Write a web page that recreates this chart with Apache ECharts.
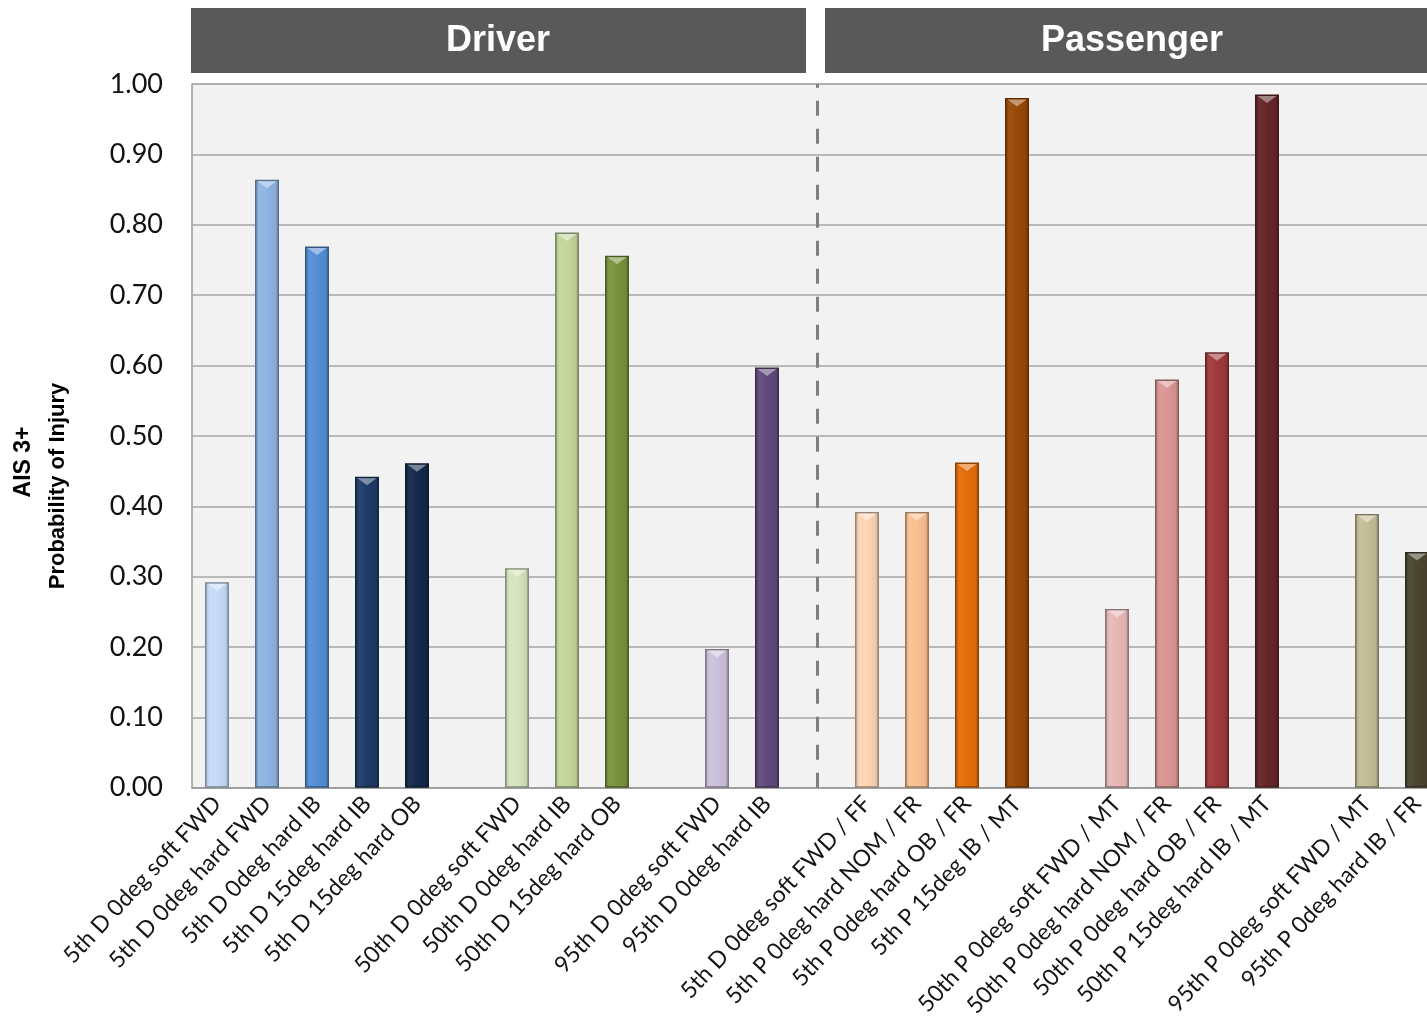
<!DOCTYPE html>
<html>
<head>
<meta charset="utf-8">
<script src="https://cdn.jsdelivr.net/npm/echarts@6/dist/echarts.min.js"></script>
<style>
html,body{margin:0;padding:0;background:#fff;overflow:hidden;width:1427px;height:1020px;}
#c{width:1442px;height:1020px;}
</style>
</head>
<body>
<div id="c"></div>
<script>
// ---- data ----
const categories = [
  '5th D 0deg soft FWD','5th D 0deg hard FWD','5th D 0deg hard IB','5th D 15deg hard IB','5th D 15deg hard OB',
  '',
  '50th D 0deg soft FWD','50th D 0deg hard IB','50th D 15deg hard OB',
  '',
  '95th D 0deg soft FWD','95th D 0deg hard IB',
  '',
  '5th D 0deg soft FWD / FF','5th P 0deg hard NOM / FR','5th P 0deg hard OB / FR','5th P 15deg IB / MT',
  '',
  '50th P 0deg soft FWD / MT','50th P 0deg hard NOM / FR','50th P 0deg hard OB / FR','50th P 15deg hard IB / MT',
  '',
  '95th P 0deg soft FWD / MT','95th P 0deg hard IB / FR'
];
const values = [
  0.292, 0.864, 0.769, 0.442, 0.461,
  null,
  0.312, 0.789, 0.756,
  null,
  0.197, 0.597,
  null,
  0.392, 0.392, 0.462, 0.980,
  null,
  0.254, 0.580, 0.619, 0.985,
  null,
  0.389, 0.335
];
const barColors = [
  '#c6dbf7','#8db4e2','#558ed5','#1f3b66','#13294a',
  null,
  '#d7e4bd','#c3d69b','#77933c',
  null,
  '#ccc1da','#604a7b',
  null,
  '#fcd5b5','#fac090','#e46c0a','#984807',
  null,
  '#e6b9b8','#d99694','#a0393a','#652527',
  null,
  '#c4bd97','#4a4530'
];
const yTicks = [0, 0.1, 0.2, 0.3, 0.4, 0.5, 0.6, 0.7, 0.8, 0.9, 1.0];
const dividerIndex = 12;
const groupHeaders = ['Driver', 'Passenger'];

// ---- helpers ----
function shade(hex, f) {
  const n = parseInt(hex.slice(1), 16);
  let r = (n >> 16) & 255, g = (n >> 8) & 255, b = n & 255;
  if (f < 1) { r *= f; g *= f; b *= f; }
  else { r = r + (255 - r) * (f - 1); g = g + (255 - g) * (f - 1); b = b + (255 - b) * (f - 1); }
  const h = v => Math.max(0, Math.min(255, Math.round(v))).toString(16).padStart(2, '0');
  return '#' + h(r) + h(g) + h(b);
}

const barData = values.map((v, i) => {
  if (v === null) return { value: null };
  const c = barColors[i];
  return {
    value: v,
    itemStyle: {
      color: new echarts.graphic.LinearGradient(0, 0, 1, 0, [
        { offset: 0, color: shade(c, 0.82) },
        { offset: 0.18, color: shade(c, 1.06) },
        { offset: 0.5, color: c },
        { offset: 0.85, color: shade(c, 0.95) },
        { offset: 1, color: shade(c, 0.75) }
      ]),
      borderColor: shade(c, 0.62),
      borderWidth: 1.5
    }
  };
});
const capData = values.map((v, i) => v === null ? { value: null } : {
  value: v,
  itemStyle: { color: shade(barColors[i], 1.5), opacity: 0.85 }
});

const chart = echarts.init(document.getElementById('c'), null, { renderer: 'canvas' });

chart.setOption({
  animation: false,
  backgroundColor: '#ffffff',
  grid: { left: 192, top: 84, width: 1250, height: 705, show: true,
          backgroundColor: '#f2f2f2', borderColor: '#a6a6a6', borderWidth: 1 },
  xAxis: {
    type: 'category',
    data: categories,
    axisLine: { lineStyle: { color: '#9a9a9a', width: 1.5 } },
    axisTick: { show: false },
    axisLabel: {
      interval: 0, rotate: 47, margin: 12,
      fontFamily: 'Lato, "Open Sans", sans-serif', fontSize: 23, color: '#151515'
    },
    splitLine: { show: false }
  },
  yAxis: {
    type: 'value', min: 0, max: 1, interval: 0.1,
    axisLine: { show: true, lineStyle: { color: '#a6a6a6', width: 1.5 } },
    axisTick: { show: false },
    axisLabel: {
      margin: 29, fontFamily: 'Lato, "Open Sans", sans-serif', fontSize: 27, color: '#111',
      formatter: v => v.toFixed(2)
    },
    splitLine: { lineStyle: { color: '#a6a6a6', width: 1.5 } }
  },
  graphic: [
    { type: 'rect', shape: { x: 191, y: 8, width: 615, height: 65 }, style: { fill: '#595959' } },
    { type: 'rect', shape: { x: 825, y: 8, width: 620, height: 65 }, style: { fill: '#595959' } },
    { type: 'text', x: 498, y: 41, style: { text: groupHeaders[0], fill: '#fff', font: 'bold 36px "Liberation Sans", Arial, sans-serif', align: 'center', verticalAlign: 'middle' } },
    { type: 'text', x: 1132, y: 41, style: { text: groupHeaders[1], fill: '#fff', font: 'bold 36px "Liberation Sans", Arial, sans-serif', align: 'center', verticalAlign: 'middle' } },
    { type: 'text', x: 24, y: 462, rotation: Math.PI / 2, style: { text: 'AIS 3+', fill: '#000', font: 'bold 23px "Liberation Sans", Arial, sans-serif', align: 'center', verticalAlign: 'middle' } },
    { type: 'text', x: 58, y: 486, rotation: Math.PI / 2, style: { text: 'Probability of Injury', fill: '#000', font: 'bold 22px "Liberation Sans", Arial, sans-serif', align: 'center', verticalAlign: 'middle' } }
  ],
  series: [
    {
      type: 'bar',
      data: barData,
      barWidth: 24,
      markLine: {
        silent: true, symbol: 'none', label: { show: false },
        lineStyle: { color: '#7f7f7f', type: [15, 13], width: 3 },
        data: [{ xAxis: dividerIndex }]
      }
    },
    {
      type: 'scatter',
      data: capData,
      symbol: 'path://M0,0 L20,0 L10,7 Z',
      symbolSize: [19, 7],
      symbolOffset: [0, 5],
      z: 5,
      silent: true
    }
  ]
});
</script>
</body>
</html>
